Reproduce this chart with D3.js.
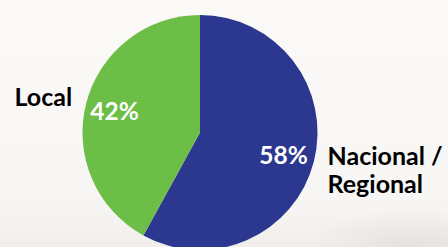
<!DOCTYPE html>
<html><head><meta charset="utf-8">
<script src="https://cdn.jsdelivr.net/npm/d3@7"></script>
<style>html,body{margin:0;padding:0;background:#fbfaf8;overflow:hidden}</style>
</head><body>
<svg id="c" width="448" height="247"></svg>
<script>
const categories = ["Nacional / Regional", "Local"];
const values = [58, 42];
const colors = ["#2c388f", "#6dbe46"];

const svg = d3.select("#c");
const W = 448, H = 247;
const defs = svg.append("defs");
const g1 = defs.append("linearGradient").attr("id","bg").attr("x1","0").attr("y1","0").attr("x2","0").attr("y2","1");
g1.append("stop").attr("offset","0").attr("stop-color","#fbfaf8");
g1.append("stop").attr("offset","0.8").attr("stop-color","#f8f6f4");
g1.append("stop").attr("offset","1").attr("stop-color","#f1eeec");
svg.append("rect").attr("width",W).attr("height",H).attr("fill","url(#bg)");
const g2 = defs.append("radialGradient").attr("id","patch").attr("cx","0.7").attr("cy","1").attr("r","0.8");
g2.append("stop").attr("offset","0").attr("stop-color","#e6e1de").attr("stop-opacity",1);
g2.append("stop").attr("offset","1").attr("stop-color","#e6e1de").attr("stop-opacity",0);
svg.append("rect").attr("x",320).attr("y",200).attr("width",128).attr("height",47).attr("fill","url(#patch)");

const cx = 200, cy = 132.5, r = 117.5;
const pie = d3.pie().sort(null).value(d => d);
const arcs = pie(values);
const arc = d3.arc().innerRadius(0).outerRadius(r);
const g = svg.append("g").attr("transform", `translate(${cx},${cy})`);
g.selectAll("path").data(arcs).join("path")
  .attr("d", arc).attr("fill", (d,i) => colors[i]);

const font = "Lato, 'Open Sans', sans-serif";
// percentage labels
const pctPos = [[283.5, 163.5], [114.5, 120]];
svg.selectAll("text.pct").data(arcs).join("text").attr("class","pct")
  .attr("x", (d,i) => pctPos[i][0]).attr("y", (d,i) => pctPos[i][1])
  .attr("text-anchor","middle").attr("fill","#fff")
  .attr("font-family", font).attr("font-weight","bold").attr("font-size", 24.5)
  .text(d => d.data + "%");

// category labels
const lab = svg.append("g").attr("font-family", font).attr("font-weight","bold").attr("font-size",25).attr("fill","#000");
lab.append("text").attr("x",14.5).attr("y",106).text(categories[1]);
const t = lab.append("text").attr("x",327.5).attr("y",165);
const parts = categories[0].split(" / ");
t.append("tspan").attr("x",327.5).attr("y",165).text(parts[0] + " /");
t.append("tspan").attr("x",327.5).attr("y",193).text(parts[1]);
</script>
</body></html>
